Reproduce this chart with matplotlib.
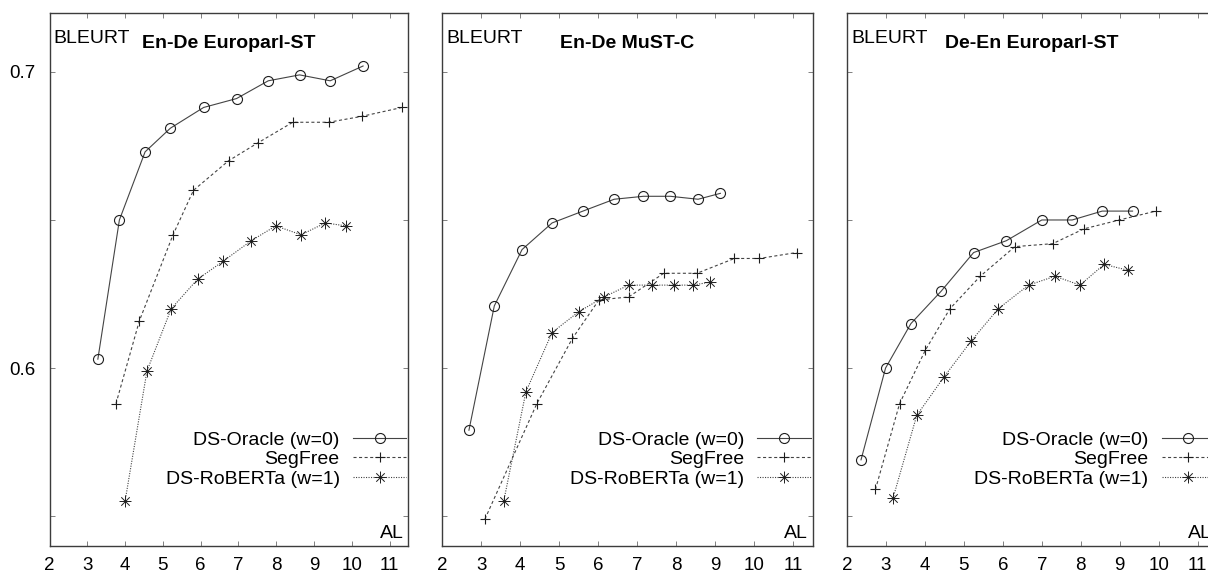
import matplotlib
matplotlib.use("Agg")
import matplotlib.pyplot as plt
from matplotlib.path import Path
from matplotlib.ticker import FixedLocator, NullFormatter

plt.rcParams['font.family'] = ['Liberation Sans', 'DejaVu Sans']
plt.rcParams['lines.scale_dashes'] = False

# ---- data -------------------------------------------------------------
panel_titles = ["En-De Europarl-ST", "En-De MuST-C", "De-En Europarl-ST"]
series_labels = ["DS-Oracle (w=0)", "SegFree", "DS-RoBERTa (w=1)"]

# En-De Europarl-ST
ep_ende_oracle_al = [3.28, 3.85, 4.53, 5.20, 6.08, 6.95, 7.79, 8.62, 9.43, 10.30]
ep_ende_oracle_bleurt = [0.603, 0.650, 0.673, 0.681, 0.688, 0.691, 0.697, 0.699, 0.697, 0.702]
ep_ende_segfree_al = [3.76, 4.38, 5.27, 5.81, 6.74, 7.51, 8.44, 9.39, 10.27, 11.33]
ep_ende_segfree_bleurt = [0.588, 0.616, 0.645, 0.660, 0.670, 0.676, 0.683, 0.683, 0.685, 0.688]
ep_ende_roberta_al = [4.00, 4.58, 5.22, 5.92, 6.59, 7.34, 7.99, 8.66, 9.30, 9.85]
ep_ende_roberta_bleurt = [0.555, 0.599, 0.620, 0.630, 0.636, 0.643, 0.648, 0.645, 0.649, 0.648]

# En-De MuST-C
mustc_oracle_al = [2.69, 3.34, 4.05, 4.82, 5.61, 6.41, 7.16, 7.85, 8.56, 9.13]
mustc_oracle_bleurt = [0.579, 0.621, 0.640, 0.649, 0.653, 0.657, 0.658, 0.658, 0.657, 0.659]
mustc_segfree_al = [3.10, 4.43, 5.34, 6.02, 6.78, 7.68, 8.53, 9.49, 10.13, 11.08]
mustc_segfree_bleurt = [0.549, 0.588, 0.610, 0.623, 0.624, 0.632, 0.632, 0.637, 0.637, 0.639]
mustc_roberta_al = [3.58, 4.15, 4.82, 5.50, 6.15, 6.78, 7.39, 7.95, 8.42, 8.87]
mustc_roberta_bleurt = [0.555, 0.592, 0.612, 0.619, 0.624, 0.628, 0.628, 0.628, 0.628, 0.629]

# De-En Europarl-ST
ep_deen_oracle_al = [2.36, 2.99, 3.64, 4.42, 5.25, 6.09, 7.00, 7.78, 8.55, 9.33]
ep_deen_oracle_bleurt = [0.569, 0.600, 0.615, 0.626, 0.639, 0.643, 0.650, 0.650, 0.653, 0.653]
ep_deen_segfree_al = [2.73, 3.35, 4.01, 4.64, 5.42, 6.31, 7.28, 8.08, 8.99, 9.93]
ep_deen_segfree_bleurt = [0.559, 0.588, 0.606, 0.620, 0.631, 0.641, 0.642, 0.647, 0.650, 0.653]
ep_deen_roberta_al = [3.18, 3.79, 4.49, 5.18, 5.88, 6.66, 7.34, 7.98, 8.60, 9.22]
ep_deen_roberta_bleurt = [0.556, 0.584, 0.597, 0.609, 0.620, 0.628, 0.631, 0.628, 0.635, 0.633]

panel_data = [
    [(ep_ende_oracle_al, ep_ende_oracle_bleurt),
     (ep_ende_segfree_al, ep_ende_segfree_bleurt),
     (ep_ende_roberta_al, ep_ende_roberta_bleurt)],
    [(mustc_oracle_al, mustc_oracle_bleurt),
     (mustc_segfree_al, mustc_segfree_bleurt),
     (mustc_roberta_al, mustc_roberta_bleurt)],
    [(ep_deen_oracle_al, ep_deen_oracle_bleurt),
     (ep_deen_segfree_al, ep_deen_segfree_bleurt),
     (ep_deen_roberta_al, ep_deen_roberta_bleurt)],
]

x_ticks = [2, 3, 4, 5, 6, 7, 8, 9, 10, 11]
y_major_ticks = [0.6, 0.7]
y_minor_ticks = [0.55, 0.65]

# ---- styling ----------------------------------------------------------
W, H = 1208, 572
LINE_COLOR = '#444444'

# asterisk: a "+" overlaid with an "x", drawn as open strokes
_d = 0.7071
asterisk = Path(
    [(0, -1), (0, 1), (-1, 0), (1, 0), (-_d, -_d), (_d, _d), (-_d, _d), (_d, -_d)],
    [Path.MOVETO, Path.LINETO] * 4,
)

series_styles = [
    dict(linestyle='-', marker='o', markersize=7.2, markerfacecolor='none',
         markeredgewidth=0.8),
    dict(linestyle=(0, (2.2, 1.8)), marker='+', markersize=7.0,
         markeredgewidth=0.8),
    dict(linestyle=(0, (0.8, 1.0)), marker=asterisk, markersize=8.6,
         markeredgewidth=0.7),
]
FS = 14
TICK_FS = 13.5

# axes boxes in pixels: (left, width)
boxes = [(49.5, 358.9), (442.0, 370.9), (847.0, 370.1)]
ax_bottom_px, ax_top_px = 545.7, 12.7
ax_h_px = ax_bottom_px - ax_top_px

fig = plt.figure(figsize=(W / 100, H / 100), dpi=100)

for i, ((left, width), title, series) in enumerate(zip(boxes, panel_titles, panel_data)):
    ax = fig.add_axes([left / W, (H - ax_bottom_px) / H, width / W, ax_h_px / H])
    for (xs, ys), label, style in zip(series, series_labels, series_styles):
        ax.plot(xs, ys, color=LINE_COLOR, linewidth=0.8,
                markeredgecolor='#1e1e1e', label=label, **style)

    ax.set_xlim(2, 11.5)
    ax.set_ylim(0.54, 0.72)
    ax.xaxis.set_major_locator(FixedLocator(x_ticks))
    ax.yaxis.set_major_locator(FixedLocator(y_major_ticks))
    ax.yaxis.set_minor_locator(FixedLocator(y_minor_ticks))
    ax.yaxis.set_minor_formatter(NullFormatter())
    ax.tick_params(which='both', direction='in', top=True, right=True,
                   length=3.6, width=0.7, color='#808080', labelsize=TICK_FS)
    ax.tick_params(axis='x', pad=8.0)
    ax.tick_params(axis='y', pad=10)
    if i > 0:
        ax.tick_params(axis='y', which='both', labelleft=False)
    for sp in ax.spines.values():
        sp.set_color('#3c3c3c')
        sp.set_linewidth(1.0)

    ax.annotate('BLEURT', xy=(0, 1), xycoords='axes fraction',
                xytext=(4.0, -30.0), textcoords='offset pixels',
                ha='left', va='baseline', fontsize=FS)
    ax.annotate(title, xy=(0.5, 1), xycoords='axes fraction',
                xytext=(0, -35.6), textcoords='offset pixels',
                ha='center', va='baseline', fontsize=FS, fontweight='bold')
    ax.annotate('AL', xy=(1, 0), xycoords='axes fraction',
                xytext=(-5, 7.4), textcoords='offset pixels',
                ha='right', va='baseline', fontsize=FS)

    ax.legend(loc='center right',
              bbox_to_anchor=(1 - 2.0 / width, (ax_bottom_px - 459.3) / ax_h_px),
              frameon=False, markerfirst=False, fontsize=FS,
              handlelength=2.75, handletextpad=0.68, labelspacing=0.1,
              borderpad=0, borderaxespad=0)

fig.savefig('out.png', dpi=100)
